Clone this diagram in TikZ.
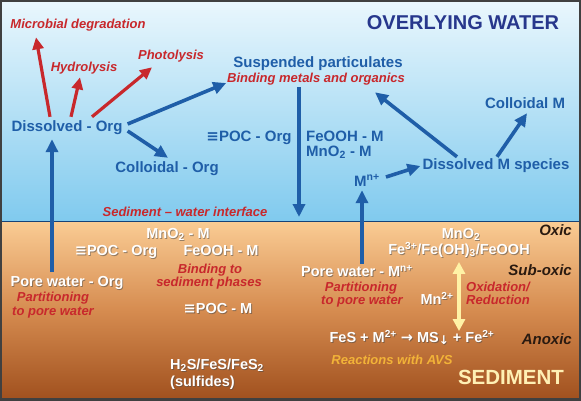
\documentclass[tikz,border=0pt]{standalone}
\usepackage{fontspec}
\setmainfont{Liberation Sans}
\newfontfamily\dvs{DejaVu Sans}
\usetikzlibrary{arrows.meta,calc}
\definecolor{wblue}{HTML}{1F5EA8}
\definecolor{navy}{HTML}{27378C}
\definecolor{wred}{HTML}{C8282C}
\definecolor{zonec}{HTML}{2A1A10}
\definecolor{ylw}{HTML}{FFF2A6}
\definecolor{avs}{HTML}{F2B338}
\definecolor{sedy}{HTML}{FFF0B4}
\definecolor{wtop}{RGB}{234,247,253}
\definecolor{wbot}{RGB}{128,202,238}
\definecolor{stop}{RGB}{250,204,148}
\definecolor{smid}{RGB}{214,140,80}
\definecolor{sbot}{RGB}{160,80,30}
\newcommand\wnode[4][]{%
  \node[wt,text=black!70,opacity=0.55,#1] (#2-sh) at ($(#3)+(0.9,0.9)$) {#4};
  \node[wt,#1] (#2) at (#3) {#4};}
\begin{document}
\begin{tikzpicture}[x=1pt,y=-1pt,
  bl/.style={text=wblue,font=\bfseries\fontsize{15}{17}\selectfont,inner sep=0,text height=11pt,text depth=3pt},
  rd/.style={text=wred,font=\bfseries\itshape\fontsize{13}{15}\selectfont,inner sep=0,text height=9.5pt,text depth=2.7pt},
  wt/.style={text=white,font=\bfseries\fontsize{14.5}{16}\selectfont,inner sep=0,text height=10.5pt,text depth=3pt},
  zone/.style={text=zonec,font=\bfseries\itshape\fontsize{15}{17}\selectfont,inner sep=0,anchor=east},
  barr/.style={draw=wblue,line width=3.6pt,-{Triangle[length=13pt,width=12pt]}},
  rarr/.style={draw=wred,line width=3.2pt,-{Triangle[length=12pt,width=11pt]}},
  yarr/.style={draw=ylw,line width=3.8pt,{Triangle[length=12pt,width=12pt]}-{Triangle[length=12pt,width=12pt]}}]
\useasboundingbox (0,0) rectangle (581,400);
% backgrounds
\shade[top color=wtop, bottom color=wbot] (0,0) rectangle (581,221);
\shade[top color=stop, bottom color=smid] (0,221) rectangle (581,310);
\shade[top color=smid, bottom color=sbot] (0,310) rectangle (581,400);
\draw[line width=1pt,color=wblue!70!black] (0,221) -- (581,221);
\draw[line width=4pt,color=black!75] (0,0) rectangle (581,400);

% water texts
\node[text=navy,font=\bfseries\fontsize{20}{22}\selectfont,inner sep=0] (ow) at (463,23) {OVERLYING WATER};
\node[rd] (mdeg) at (78,25) {Microbial degradation};
\node[rd] (hyd) at (84,68) {Hydrolysis};
\node[rd] (pho) at (171,56) {Photolysis};
\node[bl] (dorg) at (67,127) {Dissolved - Org};
\node[bl] (corg) at (167,168) {Colloidal - Org};
\node[bl] (pocorg) at (249,137) {{\dvs ≡}POC - Org};
\node[bl] (susp) at (318,63) {Suspended particulates};
\node[rd] (bind) at (316,79) {Binding metals and organics};
\node[bl,anchor=west] (feooh) at (306,137) {FeOOH - M};
\node[bl,anchor=west] (mno2) at (306,152) {MnO\textsubscript{2} - M};
\node[bl] (colm) at (525,104) {Colloidal M};
\node[bl] (dms) at (496,165) {Dissolved M species};
\node[bl] (mn) at (367,182) {M\textsuperscript{n+}};
\node[rd] (swi) at (185,213) {Sediment – water interface};
\coordinate (iface) at (299,217);

% sediment texts
\node[zone] (oxic) at (572,230) {Oxic};
\node[zone] (subox) at (572,270) {Sub-oxic};
\node[zone] (anox) at (572,339) {Anoxic};
\wnode{mno2s}{461,235}{MnO\textsubscript{2}}
\wnode{fe3}{459,251}{Fe\textsuperscript{3+}/Fe(OH)\textsubscript{3}/FeOOH}
\wnode{pwm}{357,273}{Pore water - M\textsuperscript{n+}}
\node[rd] (part2) at (361,288) {Partitioning};
\node[rd] (tpw2) at (362,301) {to pore water};
\wnode{mn2}{437,301}{Mn\textsuperscript{2+}}
\node[rd,anchor=west] (oxid) at (466,288) {Oxidation/};
\node[rd,anchor=west] (redu) at (466,301) {Reduction};
\wnode{react}{412,339}{FeS + M\textsuperscript{2+} {\dvs →} MS{\dvs\fontsize{12}{12}\selectfont\raisebox{-2pt}{↓}} + Fe\textsuperscript{2+}}
\node[rd,text=avs] (avsn) at (392,361) {Reactions with AVS};
\node[text=sedy,font=\bfseries\fontsize{20.5}{22}\selectfont,inner sep=0] (sed) at (511,377) {SEDIMENT};

\wnode{mno2m}{178,235}{MnO\textsubscript{2} - M}
\wnode{pocorg2}{116,252}{{\dvs ≡}POC - Org}
\wnode{feoohm2}{221,252}{FeOOH - M}
\node[rd] (bindto) at (210,270) {Binding to};
\node[rd] (sedph) at (209,283) {sediment phases};
\wnode{pworg}{67,283}{Pore water - Org}
\node[rd] (part1) at (53,298) {Partitioning};
\node[rd] (tpw1) at (53,312) {to pore water};
\wnode{pocm}{218,310}{{\dvs ≡}POC - M}
\wnode[anchor=west]{h2s}{170,366}{H\textsubscript{2}S/FeS/FeS\textsubscript{2}}
\wnode[anchor=west]{sulf}{170,383}{(sulfides)}

% arrows
\draw[barr] ([shift={(-15,-4)}]pworg.north) -- ([shift={(-15,5)}]dorg.south);
\draw[rarr] ([shift={(-17,-3)}]dorg.north) -- ([shift={(-42,6)}]mdeg.south);
\draw[rarr] ([shift={(4,-3)}]dorg.north) -- ([shift={(-4,3)}]hyd.south);
\draw[rarr] ([shift={(25,-3)}]dorg.north) -- ([shift={(-19,5)}]pho.south);
\draw[barr] ([shift={(5,-3)}]dorg.east) -- ([shift={(-7,20)}]susp.west);
\draw[barr] ([shift={(5,4)}]dorg.east) -- ([shift={(1,-3)}]corg.north);
\draw[barr] ([shift={(-17,2)}]bind.south) -- (iface);
\draw[barr] ([shift={(-39,-1)}]dms.north) -- ([shift={(59,7)}]bind.south);
\draw[barr] ([shift={(1,-1)}]dms.north) -- ([shift={(2,2)}]colm.south);
\draw[barr] ([shift={(6,-5)}]mn.east) -- ([shift={(-2,1)}]dms.west);
\draw[barr] ([shift={(5,-2)}]pwm.north) -- ([shift={(-5,1)}]mn.south);
\draw[yarr] ([shift={(0,4)}]fe3.south) -- ([shift={(47,-1)}]react.north);
\end{tikzpicture}
\end{document}
